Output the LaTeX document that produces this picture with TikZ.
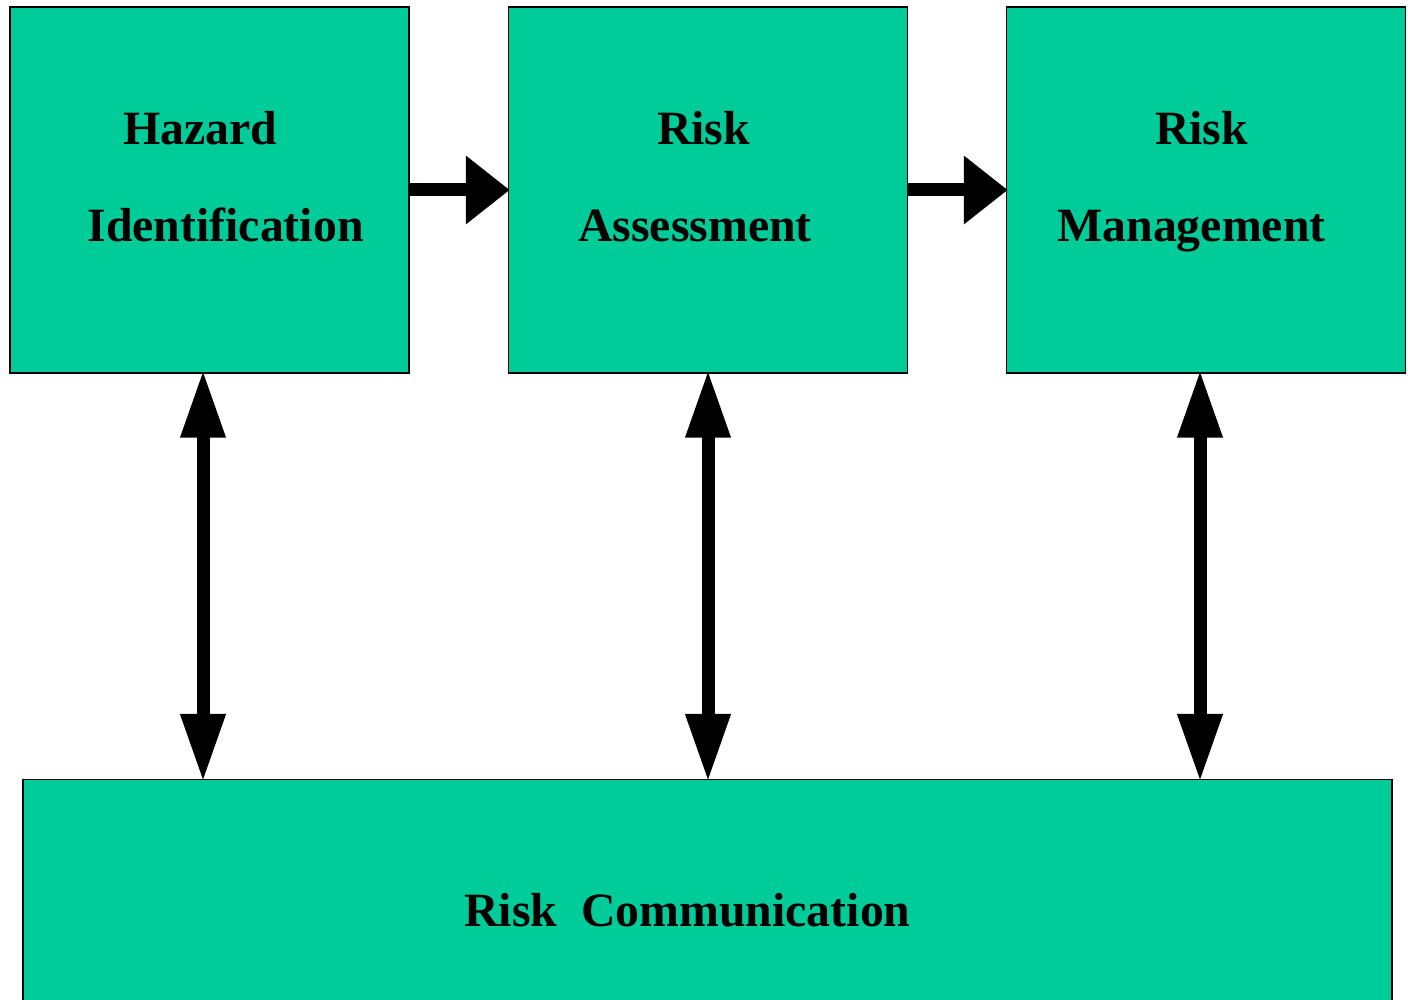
\documentclass[tikz,border=0pt]{standalone}
\usepackage{fontspec}
\setmainfont{Liberation Serif}
\usepackage{tikz}
\usetikzlibrary{arrows.meta, positioning}
\definecolor{riskgreen}{RGB}{0,204,153}

\begin{document}
\begin{tikzpicture}[
    stage/.style={draw=black, line width=0.03cm, fill=riskgreen, minimum width=7.98cm, minimum height=7.32cm, inner sep=0pt},
    txt/.style={anchor=base, inner sep=0pt, font=\fontsize{27.2}{32}\selectfont\bfseries},
    nextstep/.style={line width=0.26cm, -{Triangle[length=0.88cm, width=1.32cm]}, shorten >=-0.04cm},
    talk/.style={line width=0.26cm, {Triangle[length=1.36cm, width=0.84cm]}-{Triangle[length=1.36cm, width=0.84cm]}, shorten <=-0.08cm, shorten >=-0.06cm}
]
\useasboundingbox (0, 0) rectangle (28.16, 20);
\node [stage] (haz) at (4.19, 16.2) {};
\node [stage] (ra) at (14.16, 16.2) {};
\node [stage] (rm) at (24.12, 16.2) {};
\node [stage, minimum width=27.38cm, minimum height=5.5cm, anchor=north] (rc) at (14.15, 4.42) {};
\node [txt] (hazA) at (4.01, 17.10) {Hazard};
\node [txt] (hazB) at (4.51, 15.16) {Identification};
\node [txt] (raA) at (14.07, 17.10) {Risk};
\node [txt] (raB) at (13.90, 15.16) {Assessment};
\node [txt] (rmA) at (24.03, 17.10) {Risk};
\node [txt] (rmB) at (23.83, 15.16) {Management};
\node [txt] (rcA) at (13.75, 1.46) {Risk\ \ Communication};
\draw [nextstep] (haz) -- (ra);
\draw [nextstep] (ra) -- (rm);
\coordinate (hazDn) at ([xshift=-0.13cm]haz.south);
\coordinate (raDn) at (ra.south);
\coordinate (rmDn) at ([xshift=-0.12cm]rm.south);
\draw [talk] (hazDn) -- (hazDn |- rc.north);
\draw [talk] (raDn) -- (raDn |- rc.north);
\draw [talk] (rmDn) -- (rmDn |- rc.north);
\end{tikzpicture}
\end{document}
